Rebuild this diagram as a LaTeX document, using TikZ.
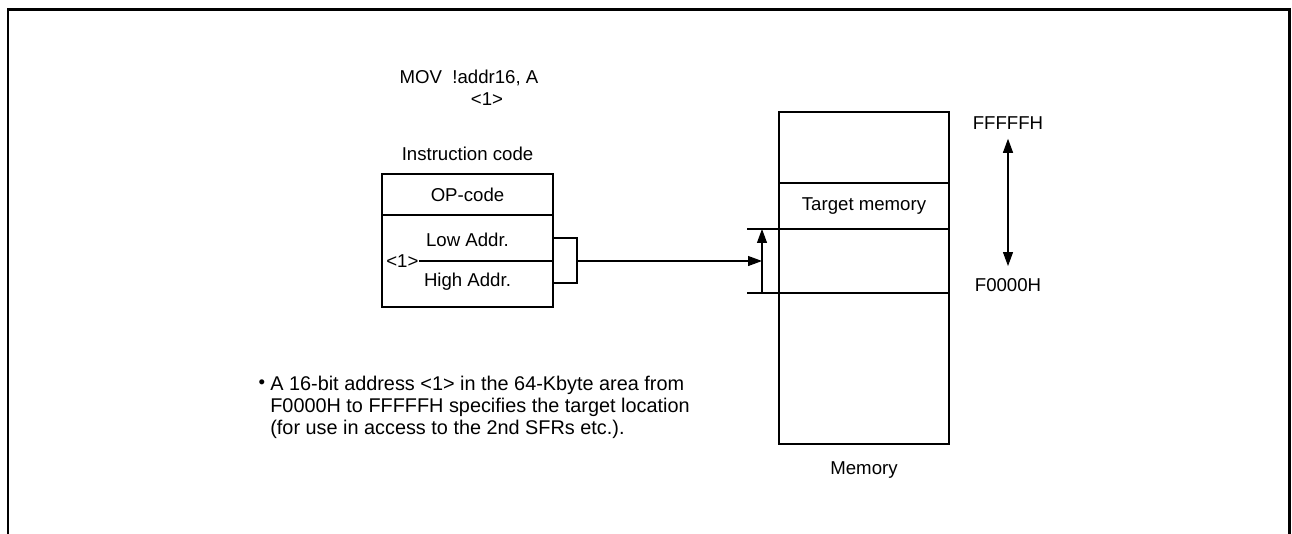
\documentclass[tikz,border=0pt]{standalone}
\usepackage{fontspec}
\setmainfont{Liberation Sans}
\usetikzlibrary{arrows.meta, positioning}

\begin{document}
\begin{tikzpicture}[
  x=0.02cm, y=-0.02cm,
  font=\fontsize{10.6}{12.5}\selectfont,
  cell/.style={
    rectangle, draw, line width=1.1pt,
    minimum width=3.42cm, inner sep=0pt, outer sep=0pt
  },
  memcell/.style={cell, minimum width=3.4cm},
  txt/.style={inner sep=0pt},
  thin/.style={line width=0.6pt},
  thick line/.style={line width=1.1pt},
  arr/.style={-{Triangle[length=0.28cm, width=0.2cm]}, line width=0.6pt}
]
  \useasboundingbox (0,0) rectangle (1292,534);
  % frame
  \draw[line width=1.7pt] (8,534) -- (8,9.5) -- (1289.5,9.5) -- (1289.5,534);

  % instruction
  \node[txt] (mov)   at (469,78)  {MOV\ \ !addr16, A};
  \node[txt] (ref)   at (487,99)  {<1>};
  \node[txt] (icode) at (467.5,154) {Instruction code};
  \node[cell, minimum height=0.82cm] (opc) at (467.5,194.5) {OP-code};
  \node[cell, minimum height=1.84cm, below=0pt of opc] (addr) {};
  \node[txt] (low)  at (467.5,240) {Low Addr.};
  \node[txt] (high) at (467.5,282) {High Addr.};
  \node[txt, anchor=west] (idx) at (386,261) {<1>};
  \draw[line width=0.9pt] (idx.east) -- (addr.east |- idx.east);

  % bracket to memory
  \coordinate (bl) at (577,238);
  \coordinate (bh) at (577,283);
  \coordinate (bm) at (577,261);
  \draw[thin] (addr.east |- bl) -- (bl) -- (bh) -- (addr.east |- bh);

  % memory
  \node[memcell, minimum height=1.42cm] (mtop) at (864,147.5) {};
  \node[memcell, minimum height=0.92cm, below=0pt of mtop]    (mtarget) {Target memory};
  \node[memcell, minimum height=1.28cm, below=0pt of mtarget] (mdata) {};
  \node[memcell, minimum height=3.02cm, below=0pt of mdata]   (mrest) {};
  \node[txt] (mlabel) at (864,470) {Memory};

  \coordinate (rt) at (747,229);
  \coordinate (rb) at (747,293);
  \coordinate (vt) at (762,229);
  \coordinate (vb) at (762,293);
  \draw[thick line] (rt) -- (mdata.north west);
  \draw[thick line] (rb) -- (mdata.south west);
  \draw[arr] (vb) -- (vt);
  \draw[arr] (bm) -- (vb |- bm);

  % address range
  \node[txt] (hi) at (1008,123) {FFFFFH};
  \node[txt] (lo) at (1008,285) {F0000H};
  \draw[arr, {Triangle[length=0.28cm, width=0.2cm]}-{Triangle[length=0.28cm, width=0.2cm]},
        shorten <=0.18cm, shorten >=0.24cm] (hi.south) -- (lo.north);

  % note
  \node[txt] (bul) at (262,384) {•};
  \node[txt, anchor=north west, align=left, font=\fontsize{11.3}{12.5}\selectfont] (note) at (270,376)
    {A 16-bit address <1> in the 64-Kbyte area from\\
     F0000H to FFFFFH specifies the target location\\
     (for use in access to the 2nd SFRs etc.).};
\end{tikzpicture}
\end{document}
